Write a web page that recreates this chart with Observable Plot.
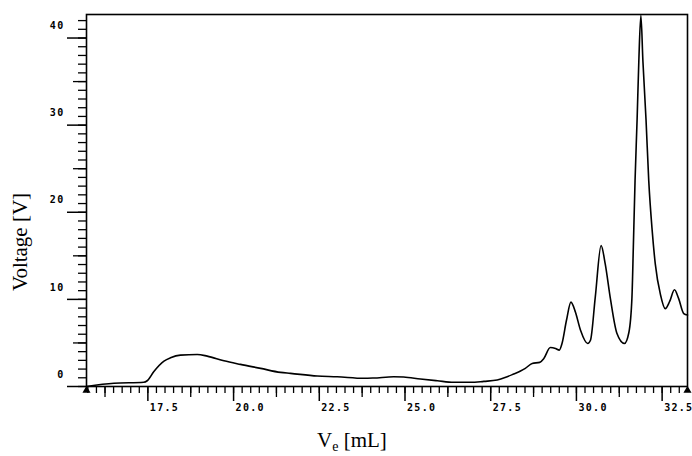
<!DOCTYPE html>
<html>
<head>
<meta charset="utf-8">
<script src="https://cdn.jsdelivr.net/npm/d3@7"></script>
<script src="https://cdn.jsdelivr.net/npm/@observablehq/plot@0.6"></script>
<style>
  html, body { margin: 0; padding: 0; background: #fff; }
</style>
</head>
<body>
<div id="chart"></div>
<script>
// Elution volume (mL) and detector voltage (V)
const ve = [15.71, 16.51, 17.38, 17.48, 17.67, 17.97, 18.16, 18.45, 18.94, 19.23, 19.72, 20.20, 20.79, 21.37, 21.66,
  22.44, 23.02, 23.80, 24.08, 24.67, 24.96, 25.45, 25.94, 26.42, 26.91, 27.30, 27.69, 27.98, 28.17, 28.37, 28.51,
  28.71, 28.93, 29.05, 29.24, 29.39, 29.50, 29.58, 29.71, 29.84, 29.97, 30.12, 30.33, 30.41, 30.55, 30.72, 30.84,
  30.99, 31.18, 31.40, 31.53, 31.62, 31.66, 31.71, 31.77, 31.82, 31.88, 31.94, 32.03, 32.11, 32.21, 32.30,
  32.45, 32.59, 32.72, 32.86, 32.98, 33.13, 33.24];
const volt = [0.0, 0.37, 0.48, 0.66, 1.69, 2.91, 3.29, 3.60, 3.68, 3.49, 2.95, 2.54, 2.08, 1.62, 1.51,
  1.20, 1.12, 0.94, 0.97, 1.12, 1.09, 0.86, 0.66, 0.48, 0.48, 0.59, 0.74, 1.12, 1.43, 1.77, 2.08,
  2.65, 2.77, 3.22, 4.48, 4.37, 4.17, 4.94, 7.60, 9.69, 8.55, 6.46, 4.94, 5.31, 10.26, 16.17, 14.08,
  10.11, 6.11, 4.94, 6.2, 10.26, 15.98, 23.6, 30.65, 37.3, 42.6, 37.3, 30.65, 23.6, 17.89, 14.08,
  10.57, 8.94, 9.77, 11.11, 10.11, 8.37, 8.2];

const xDomain = [15.71, 33.24];
const yDomain = [0, 42.7];

const xMajorTicks = [17.5, 20.0, 22.5, 25.0, 27.5, 30.0, 32.5];
const xMediumTicks = [16.25, 18.75, 21.25, 23.75, 26.25, 28.75, 31.25];
const xMinorTicks = d3.range(15.75, 33.25, 0.25);
const yMajorTicks = [0, 10, 20, 30, 40];
const yMediumTicks = [5, 15, 25, 35];
const yMinorTicks = d3.range(0, 43, 1);

const xTitle = "V";
const xTitleSub = "e";
const xTitleUnit = " [mL]";
const yTitle = "Voltage [V]";

const data = ve.map((v, i) => ({ve: v, volt: volt[i]}));
const markers = xDomain.map(v => ({ve: v, volt: 0}));
const blank = () => "";

const chart = Plot.plot({
  width: 692,
  height: 456,
  marginLeft: 86,
  marginRight: 5,
  marginTop: 14,
  marginBottom: 70,
  x: {domain: xDomain},
  y: {domain: yDomain},
  style: {background: "white", color: "black", fontFamily: "'DejaVu Sans Mono', monospace", fontSize: "10px", fontWeight: "bold", letterSpacing: "1.3px"},
  marks: [
    Plot.axisX({ticks: xMinorTicks, tickSize: 7, tickFormat: blank, label: null, strokeWidth: 1.3}),
    Plot.axisX({ticks: xMediumTicks, tickSize: 11, tickFormat: blank, label: null, strokeWidth: 1.3}),
    Plot.axisX({ticks: xMajorTicks, tickSize: 15, tickFormat: blank, label: null, strokeWidth: 1.5}),
    Plot.axisX({ticks: xMajorTicks, tickSize: 0, tickPadding: 17, tickFormat: d3.format(".1f"), textAnchor: "start", dx: 2, label: null}),
    Plot.axisY({ticks: yMinorTicks, tickSize: 8, tickFormat: blank, label: null, strokeWidth: 1.3}),
    Plot.axisY({ticks: yMediumTicks, tickSize: 13, tickFormat: blank, label: null, strokeWidth: 1.3}),
    Plot.axisY({ticks: yMajorTicks, tickSize: 19, tickFormat: blank, label: null, strokeWidth: 1.5}),
    Plot.axisY({ticks: yMajorTicks, tickSize: 0, tickPadding: 22, dy: -12, tickFormat: d => String(d), label: null}),
    Plot.frame({stroke: "black", strokeWidth: 1.6}),
    Plot.line(data, {x: "ve", y: "volt", curve: "monotone-x", stroke: "black", strokeWidth: 1.6}),
    Plot.dot(markers, {x: "ve", y: "volt", symbol: "triangle", fill: "black", r: 3, dy: 4})
  ]
});

document.getElementById("chart").appendChild(chart);

const svg = d3.select(chart);
svg.append("text")
  .attr("transform", "translate(27,242) rotate(-90)")
  .attr("text-anchor", "middle")
  .style("font-family", "'Liberation Serif', 'Times New Roman', serif")
  .style("font-size", "21px")
  .style("font-weight", "normal")
  .style("letter-spacing", "0px")
  .attr("fill", "black")
  .text(yTitle);

const xt = svg.append("text")
  .attr("x", 317)
  .attr("y", 447)
  .attr("text-anchor", "start")
  .style("font-family", "'Liberation Serif', 'Times New Roman', serif")
  .style("font-size", "21px")
  .style("font-weight", "normal")
  .style("letter-spacing", "0px")
  .attr("fill", "black");
xt.append("tspan").text(xTitle);
xt.append("tspan").attr("dy", 4).style("font-size", "14px").text(xTitleSub);
xt.append("tspan").attr("dy", -4).text(xTitleUnit);
</script>
</body>
</html>
